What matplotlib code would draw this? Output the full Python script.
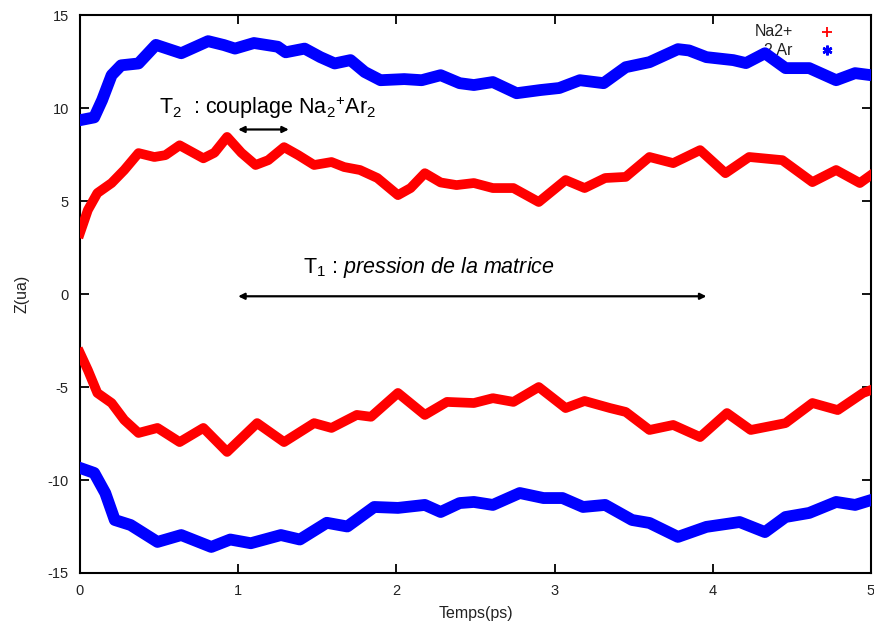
import matplotlib
matplotlib.use("Agg")
import matplotlib.pyplot as plt

# Na2+ (upper branch), time in ps, z in atomic units
t_na_up = [0.00, 0.05, 0.11, 0.20, 0.28, 0.37, 0.47, 0.54, 0.63, 0.78, 0.85, 0.93,
           1.02, 1.11, 1.19, 1.29, 1.38, 1.48, 1.59, 1.67, 1.77, 1.88, 2.01, 2.09,
           2.18, 2.28, 2.38, 2.49, 2.61, 2.74, 2.90, 3.07, 3.19, 3.32, 3.45, 3.60,
           3.75, 3.92, 4.08, 4.23, 4.44, 4.63, 4.78, 4.93, 5.00]
z_na_up = [3.28, 4.52, 5.43, 5.97, 6.67, 7.58, 7.37, 7.47, 8.00, 7.30, 7.60, 8.45,
           7.60, 6.94, 7.20, 7.90, 7.47, 6.94, 7.10, 6.83, 6.67, 6.24, 5.32, 5.70,
           6.50, 6.00, 5.86, 5.97, 5.70, 5.70, 4.95, 6.13, 5.70, 6.24, 6.30, 7.37,
           7.04, 7.74, 6.50, 7.37, 7.20, 6.02, 6.67, 5.97, 6.40]

# Na2+ (lower branch)
t_na_lo = [0.00, 0.05, 0.11, 0.20, 0.28, 0.37, 0.49, 0.63, 0.78, 0.93, 1.12, 1.29,
           1.48, 1.59, 1.75, 1.84, 2.01, 2.18, 2.32, 2.49, 2.61, 2.74, 2.90, 3.07,
           3.19, 3.35, 3.45, 3.60, 3.75, 3.92, 4.09, 4.24, 4.46, 4.63, 4.79, 4.95, 5.00]
z_na_lo = [-3.17, -4.09, -5.32, -5.86, -6.77, -7.47, -7.20, -7.96, -7.20, -8.49,
           -6.94, -7.96, -6.94, -7.20, -6.50, -6.60, -5.32, -6.50, -5.80, -5.86,
           -5.60, -5.80, -5.00, -6.13, -5.75, -6.13, -6.34, -7.31, -7.04, -7.69,
           -6.40, -7.31, -6.94, -5.86, -6.24, -5.32, -5.16]

# 2 Ar (upper atom)
t_ar_up = [0.00, 0.09, 0.14, 0.20, 0.26, 0.37, 0.48, 0.64, 0.81, 0.91, 0.98, 1.10,
           1.25, 1.30, 1.42, 1.52, 1.61, 1.71, 1.80, 1.90, 2.05, 2.16, 2.28, 2.40,
           2.49, 2.61, 2.76, 2.91, 3.03, 3.16, 3.31, 3.45, 3.60, 3.78, 3.85, 3.96,
           4.13, 4.21, 4.33, 4.46, 4.61, 4.78, 4.90, 5.00]
z_ar_up = [9.35, 9.50, 10.43, 11.77, 12.30, 12.40, 13.40, 12.95, 13.60, 13.39, 13.20,
           13.50, 13.30, 13.00, 13.20, 12.74, 12.40, 12.58, 11.94, 11.50, 11.56, 11.50,
           11.77, 11.34, 11.24, 11.40, 10.80, 10.97, 11.08, 11.50, 11.34, 12.20, 12.47,
           13.17, 13.10, 12.74, 12.58, 12.42, 12.95, 12.15, 12.15, 11.50, 11.88, 11.77]

# 2 Ar (lower atom)
t_ar_lo = [0.00, 0.09, 0.16, 0.22, 0.32, 0.49, 0.64, 0.83, 0.95, 1.08, 1.27, 1.39,
           1.56, 1.69, 1.86, 2.01, 2.18, 2.28, 2.40, 2.49, 2.61, 2.78, 2.93, 3.05,
           3.18, 3.32, 3.49, 3.60, 3.78, 3.96, 4.17, 4.33, 4.46, 4.61, 4.78, 4.90, 5.00]
z_ar_lo = [-9.35, -9.62, -10.70, -12.15, -12.42, -13.33, -12.96, -13.60, -13.20,
           -13.40, -12.96, -13.20, -12.30, -12.50, -11.45, -11.50, -11.34, -11.72,
           -11.24, -11.18, -11.34, -10.70, -10.97, -10.97, -11.45, -11.34, -12.15,
           -12.31, -13.06, -12.52, -12.26, -12.80, -11.99, -11.77, -11.18, -11.34, -11.08]

x_ticks = [0, 1, 2, 3, 4, 5]
y_ticks = [-15, -10, -5, 0, 5, 10, 15]

RED = "#ff0000"
BLUE = "#0000ff"
TXT = "#222222"

plt.rcParams["font.family"] = ["Liberation Sans", "DejaVu Sans"]
plt.rcParams["axes.unicode_minus"] = False
plt.rcParams["mathtext.fontset"] = "custom"
plt.rcParams["mathtext.rm"] = "Liberation Sans"
plt.rcParams["mathtext.it"] = "Liberation Sans:italic"

fig = plt.figure(figsize=(8.74, 6.3), dpi=100)
ax = fig.add_axes([0.0915, 0.0905, 0.905, 0.8855])

ax.plot(t_na_up, z_na_up, color=RED, lw=7, solid_joinstyle="round", zorder=3)
ax.plot(t_na_lo, z_na_lo, color=RED, lw=7, solid_joinstyle="round", zorder=3)
ax.plot(t_ar_up, z_ar_up, color=BLUE, lw=8.5, solid_joinstyle="round", zorder=3)
ax.plot(t_ar_lo, z_ar_lo, color=BLUE, lw=8.5, solid_joinstyle="round", zorder=3)

ax.set_xlim(0, 5)
ax.set_ylim(-15, 15)
ax.set_xticks(x_ticks)
ax.set_yticks(y_ticks)
ax.tick_params(direction="in", length=6.5, width=1.3, top=True, right=True,
               labelsize=10.5, labelcolor=TXT, pad=8)
for sp in ax.spines.values():
    sp.set_linewidth(1.5)

ax.set_xlabel("Temps(ps)", fontsize=11.5, color=TXT, labelpad=6)
ax.set_ylabel("Z(ua)", fontsize=11.5, color=TXT, labelpad=13)

# hand-made legend (gnuplot style, drawn under the curves)
ax.text(0.901, 0.970, "Na2+", transform=ax.transAxes, ha="right", va="center",
        fontsize=11.5, color=TXT, zorder=1)
ax.text(0.901, 0.937, "2 Ar", transform=ax.transAxes, ha="right", va="center",
        fontsize=11.5, color=TXT, zorder=1)
ax.plot([0.944], [0.970], transform=ax.transAxes, marker="+", ms=7, mew=1.3,
        color=RED, ls="none", clip_on=False)
ax.plot([0.944], [0.937], transform=ax.transAxes, marker=(6, 2, 0), ms=7, mew=1.8,
        color=BLUE, ls="none", clip_on=False)

# annotations
ax.annotate("", xy=(1.0, 8.85), xytext=(1.32, 8.85),
            arrowprops=dict(arrowstyle="<|-|>", color="black", lw=1.6,
                            mutation_scale=9, shrinkA=0, shrinkB=0))
ax.text(0.5, 10.0, r"T$_2$  : couplage Na$_2{}^{+}$Ar$_2$", fontsize=15.5,
        ha="left", va="center")

ax.annotate("", xy=(1.0, -0.12), xytext=(3.96, -0.12),
            arrowprops=dict(arrowstyle="<|-|>", color="black", lw=1.6,
                            mutation_scale=9, shrinkA=0, shrinkB=0))
ax.text(1.41, 1.45, r"T$_1$ : $\it{pression\ de\ la\ matrice}$", fontsize=15.5,
        ha="left", va="center")

fig.savefig("out.png", dpi=100)
